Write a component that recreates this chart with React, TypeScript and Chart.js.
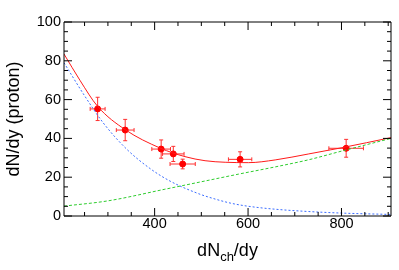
import React, { useEffect, useRef } from "react";
import { Chart, registerables } from "chart.js";

Chart.register(...registerables);

const FONT = "'Liberation Sans', Arial, Helvetica, sans-serif";

const X_MIN = 206;
const X_MAX = 906;
const Y_MIN = 0;
const Y_MAX = 100;
const xTickLabels = [400, 600, 800];
const yTickLabels = [0, 20, 40, 60, 80, 100];
const xMinorStep = 50;
const yMinorStep = 5;

// measured points (dN_ch/dy, dN/dy proton)
const dataX = [278, 337, 414, 440, 460, 583, 810];
const dataY = [55.2, 44.3, 34.5, 32.0, 26.8, 29.2, 34.9];
const dataXErr = [16, 19, 20, 23, 27, 25, 37];
const dataYErr = [6.0, 5.5, 4.7, 3.9, 2.5, 3.9, 4.6];

// total fit curve (red)
const fitX = [206, 240, 278, 337, 412, 465, 508, 551, 601, 658, 730, 801, 906];
const fitY = [83.5, 70, 56.5, 44.5, 35, 30.6, 28.5, 27.7, 27.5, 28.9, 32, 35.2, 40.4];

// decreasing component (blue)
const blueX = [206, 250, 290, 340, 390, 433, 494, 530, 565, 601, 658, 730, 801, 906];
const blueY = [79, 62, 48, 34.5, 24.5, 18, 11.5, 8.7, 6.5, 5, 3.5, 2.3, 1.5, 0.8];

// increasing component (green)
const greenX = [206, 300, 422, 501, 580, 658, 730, 801, 906];
const greenY = [5.1, 7.8, 13.8, 17.7, 21.6, 25.3, 29, 33.5, 40];

const zip = (xs: number[], ys: number[]) => xs.map((x, i) => ({ x, y: ys[i] }));

const errorBars = {
  id: "errorBars",
  beforeDatasetsDraw(chart: any) {
    const { ctx, scales, chartArea } = chart;
    const xs = scales.x;
    const ys = scales.y;
    ctx.save();
    ctx.beginPath();
    ctx.rect(chartArea.left, chartArea.top, chartArea.right - chartArea.left, chartArea.bottom - chartArea.top);
    ctx.clip();
    ctx.strokeStyle = "#ff3030";
    ctx.lineWidth = 1;
    const cap = 2;
    dataX.forEach((x, i) => {
      const y = dataY[i];
      const px = xs.getPixelForValue(x);
      const py = ys.getPixelForValue(y);
      const x0 = xs.getPixelForValue(x - dataXErr[i]);
      const x1 = xs.getPixelForValue(x + dataXErr[i]);
      const y0 = ys.getPixelForValue(y - dataYErr[i]);
      const y1 = ys.getPixelForValue(y + dataYErr[i]);
      ctx.beginPath();
      ctx.moveTo(x0, py);
      ctx.lineTo(x1, py);
      ctx.moveTo(px, y0);
      ctx.lineTo(px, y1);
      ctx.moveTo(x0, py - cap);
      ctx.lineTo(x0, py + cap);
      ctx.moveTo(x1, py - cap);
      ctx.lineTo(x1, py + cap);
      ctx.moveTo(px - cap, y0);
      ctx.lineTo(px + cap, y0);
      ctx.moveTo(px - cap, y1);
      ctx.lineTo(px + cap, y1);
      ctx.stroke();
    });
    ctx.restore();
  },
};

const frameAndTitle = {
  id: "frameAndTitle",
  afterDraw(chart: any) {
    const { ctx, scales, chartArea } = chart;
    const xs = scales.x;
    const ys = scales.y;
    const { left, right, top, bottom } = chartArea;
    ctx.save();
    ctx.strokeStyle = "#000";
    ctx.lineWidth = 1;
    ctx.beginPath();
    ctx.rect(left, top, right - left, bottom - top);
    ctx.stroke();

    const major = 8;
    const minor = 4;
    ctx.beginPath();
    // x ticks (bottom and top)
    const xStart = Math.ceil(X_MIN / xMinorStep) * xMinorStep;
    for (let v = xStart; v <= X_MAX; v += xMinorStep) {
      const p = xs.getPixelForValue(v);
      const len = xTickLabels.includes(v) || v % 200 === 0 ? major : minor;
      ctx.moveTo(p, bottom);
      ctx.lineTo(p, bottom - len);
      ctx.moveTo(p, top);
      ctx.lineTo(p, top + len);
    }
    // y ticks (left and right)
    for (let v = Y_MIN; v <= Y_MAX; v += yMinorStep) {
      const p = ys.getPixelForValue(v);
      const len = v % 20 === 0 ? major : minor;
      ctx.moveTo(left, p);
      ctx.lineTo(left + len, p);
      ctx.moveTo(right, p);
      ctx.lineTo(right - len, p);
    }
    ctx.stroke();

    // x axis title with subscript
    const main = "18px " + FONT;
    const sub = "13px " + FONT;
    const a = "dN";
    const b = "ch";
    const c = "/dy";
    ctx.font = main;
    const wa = ctx.measureText(a).width;
    const wc = ctx.measureText(c).width;
    ctx.font = sub;
    const wb = ctx.measureText(b).width;
    const total = wa + wb + wc;
    let x = (left + right) / 2 - total / 2;
    const base = 256;
    ctx.fillStyle = "#000";
    ctx.textBaseline = "alphabetic";
    ctx.textAlign = "left";
    ctx.font = main;
    ctx.fillText(a, x, base);
    x += wa;
    ctx.font = sub;
    ctx.fillText(b, x, base + 5);
    x += wb;
    ctx.font = main;
    ctx.fillText(c, x, base);
    ctx.restore();
  },
};

export default function App() {
  const ref = useRef<HTMLCanvasElement | null>(null);

  useEffect(() => {
    if (!ref.current) return;
    const chart = new Chart(ref.current, {
      type: "scatter",
      data: {
        datasets: [
          {
            type: "line",
            data: zip(blueX, blueY),
            borderColor: "#3a6cff",
            borderWidth: 1,
            borderDash: [2, 2],
            pointRadius: 0,
            fill: false,
            cubicInterpolationMode: "monotone",
          },
          {
            type: "line",
            data: zip(greenX, greenY),
            borderColor: "#2ecc2e",
            borderWidth: 1,
            borderDash: [3, 2],
            pointRadius: 0,
            fill: false,
            cubicInterpolationMode: "monotone",
          },
          {
            type: "line",
            data: zip(fitX, fitY),
            borderColor: "#ff1a1a",
            borderWidth: 1,
            pointRadius: 0,
            fill: false,
            cubicInterpolationMode: "monotone",
          },
          {
            type: "scatter",
            data: zip(dataX, dataY),
            backgroundColor: "#ff0000",
            borderColor: "#ff0000",
            pointRadius: 3,
            pointStyle: "circle",
          },
        ],
      } as any,
      options: {
        responsive: false,
        animation: false,
        devicePixelRatio: 1,
        layout: { padding: { top: 22, right: 8, bottom: 0, left: 0 } },
        plugins: {
          legend: { display: false },
          tooltip: { enabled: false },
        },
        scales: {
          x: {
            type: "linear",
            min: X_MIN,
            max: X_MAX,
            grid: { display: false, drawTicks: false },
            border: { display: false },
            ticks: {
              color: "#000",
              font: { family: FONT, size: 14.5, lineHeight: 1 },
              padding: 1,
              maxRotation: 0,
              autoSkip: false,
              includeBounds: false,
            },
            afterBuildTicks: (s: any) => {
              s.ticks = xTickLabels.map((v) => ({ value: v }));
            },
            afterFit: (s: any) => {
              s.height = 54;
            },
          },
          y: {
            type: "linear",
            min: Y_MIN,
            max: Y_MAX,
            grid: { display: false, drawTicks: false },
            border: { display: false },
            ticks: {
              color: "#000",
              font: { family: FONT, size: 14.5, lineHeight: 1 },
              padding: 3,
              autoSkip: false,
              includeBounds: false,
            },
            afterBuildTicks: (s: any) => {
              s.ticks = yTickLabels.map((v) => ({ value: v }));
            },
            afterFit: (s: any) => {
              s.width = 64;
            },
            title: {
              display: true,
              text: "dN/dy (proton)",
              color: "#000",
              font: { family: FONT, size: 18, lineHeight: 1.2 },
              padding: { top: 3, bottom: 0 },
            },
          },
        },
      } as any,
      plugins: [errorBars, frameAndTitle],
    });
    return () => chart.destroy();
  }, []);

  return (
    <div style={{ position: "absolute", left: 0, top: 0, width: 399, height: 270, background: "#fff" }}>
      <canvas ref={ref} width={399} height={270} />
    </div>
  );
}
